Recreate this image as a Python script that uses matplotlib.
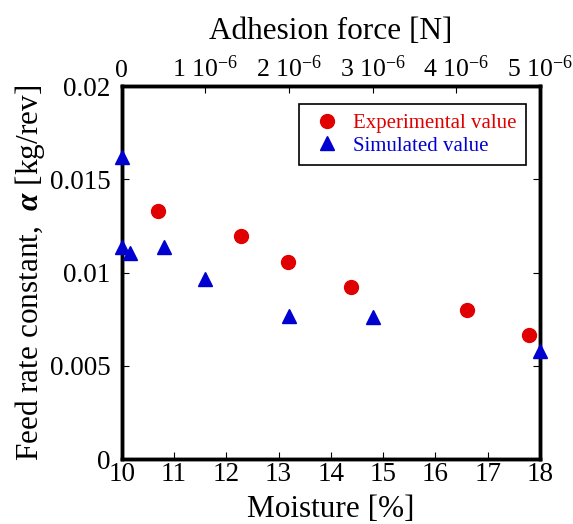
import matplotlib
matplotlib.use("Agg")
import matplotlib.pyplot as plt

plt.rcParams['font.family'] = ['Liberation Serif', 'DejaVu Serif']
plt.rcParams['mathtext.fontset'] = 'custom'
plt.rcParams['mathtext.rm'] = 'Liberation Serif'
plt.rcParams['mathtext.it'] = 'Liberation Serif:italic:bold'
plt.rcParams['mathtext.bf'] = 'Liberation Serif:bold'

# Experimental values vs moisture
exp_moisture = [10.69, 12.29, 13.19, 14.39, 16.60, 17.79]
exp_alpha = [0.0133, 0.01196, 0.01057, 0.00921, 0.00798, 0.00664]

# Simulated values vs adhesion force
sim_force = [0, 0, 0.1e-6, 0.5e-6, 1e-6, 2e-6, 3e-6, 5e-6]
sim_alpha = [0.01622, 0.01136, 0.01107, 0.01136, 0.00967, 0.00767, 0.0076, 0.00581]

moist_ticks = [10, 11, 12, 13, 14, 15, 16, 17, 18]
alpha_ticks = [0, 0.005, 0.01, 0.015, 0.02]
alpha_labels = ['0', '0.005', '0.01', '0.015', '0.02']
force_ticks = [0, 1e-6, 2e-6, 3e-6, 4e-6, 5e-6]
force_labels = ['0'] + [r'%d 10$^{-6}$' % i for i in range(1, 6)]

fig = plt.figure(figsize=(5.73, 5.24), dpi=100)
ax = fig.add_axes([0.2124, 0.124, 0.730, 0.7118])
ax2 = ax.twiny()

h1, = ax.plot(exp_moisture, exp_alpha, 'o', color='#e00000', markersize=10,
              linestyle='none', label='Experimental value', clip_on=False, zorder=5)
h2, = ax2.plot(sim_force, sim_alpha, '^', color='#0000d0', markersize=10,
               linestyle='none', label='Simulated value', clip_on=False, zorder=5)

ax.set_xlim(10, 18)
ax.set_ylim(0, 0.02)
ax2.set_xlim(0, 5e-6)

ax.set_xticks(moist_ticks)
ax.set_yticks(alpha_ticks)
ax.set_yticklabels(alpha_labels)
ax2.set_xticks(force_ticks)
ax2.set_xticklabels(force_labels)

ax.tick_params(axis='x', direction='in', length=5, width=0.8, labelsize=19.5, pad=2, top=False)
ax.tick_params(axis='y', direction='in', length=5, width=0.8, labelsize=19.5, pad=8, right=True)
ax2.tick_params(axis='x', direction='in', length=5, width=0.8, labelsize=18.5, pad=3)

for a in (ax, ax2):
    for s in a.spines.values():
        s.set_linewidth(2.5)

ax.set_xlabel('Moisture [%]', fontsize=22.5, labelpad=6)
ax2.set_xlabel('Adhesion force [N]', fontsize=22.5, labelpad=12)
ax.set_ylabel(r'Feed rate constant,  $\alpha$ [kg/rev]', fontsize=22.5, labelpad=2)

leg = ax2.legend([h1, h2], ['Experimental value', 'Simulated value'],
                 loc='upper right', bbox_to_anchor=(0.9665, 0.9517), borderaxespad=0,
                 fontsize=15, frameon=True, fancybox=False, framealpha=1,
                 handletextpad=0.35, borderpad=0.45, labelspacing=0.15, handlelength=1.8)
leg.get_frame().set_edgecolor('black')
leg.get_frame().set_linewidth(1.2)
for t, c in zip(leg.get_texts(), ['#e00000', '#0000d0']):
    t.set_color(c)

fig.savefig('out.png', dpi=100)
